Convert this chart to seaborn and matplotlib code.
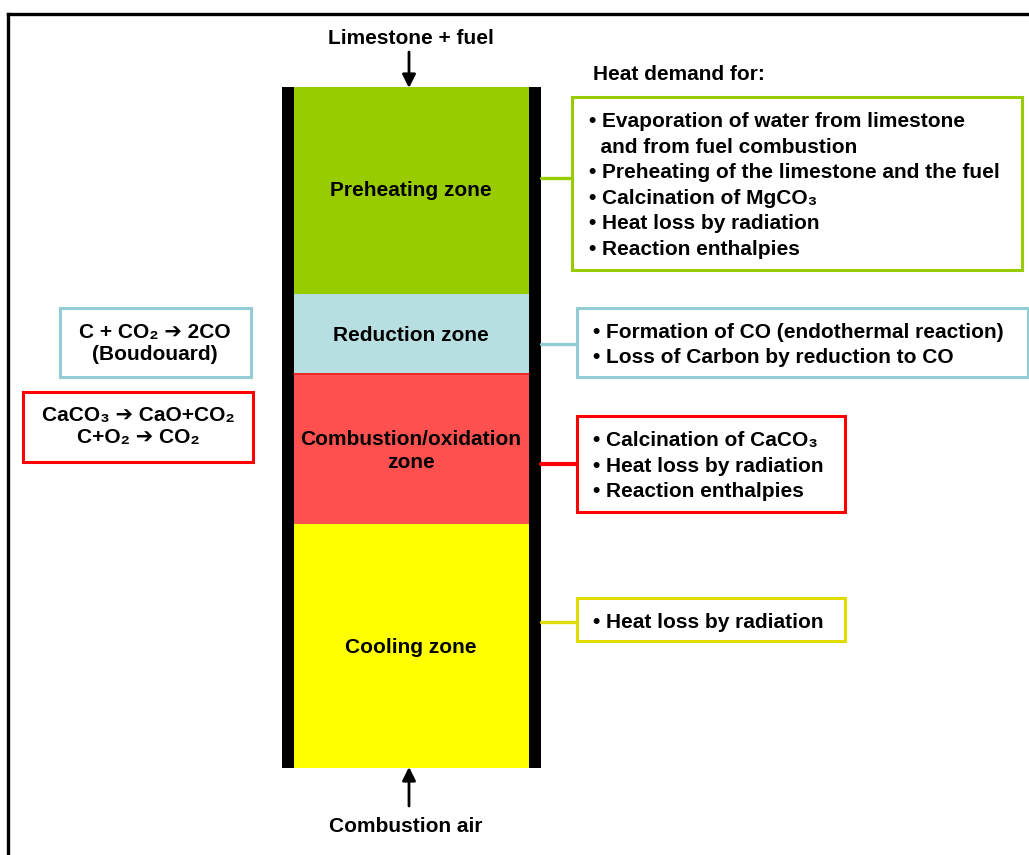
import matplotlib
matplotlib.use("Agg")
import matplotlib.pyplot as plt
from matplotlib.patches import Rectangle
import seaborn as sns

# zones of the kiln shaft, top to bottom (pixel-like units, y grows downward)
zone_names = ["Preheating zone", "Reduction zone", "Combustion/oxidation\nzone", "Cooling zone"]
zone_top = [87, 294, 375, 524]
zone_bottom = [294, 373, 524, 768]
zone_colors = ["#99CC00", "#B7DFE2", "#FF5050", "#FFFF00"]
zone_label_y = [191, 335, 451, 647]

# heat demand boxes (right side)
green_items = ["• Evaporation of water from limestone", "  and from fuel combustion",
               "• Preheating of the limestone and the fuel", "• Calcination of MgCO₃",
               "• Heat loss by radiation", "• Reaction enthalpies"]
blue_items = ["• Formation of CO (endothermal reaction)", "• Loss of Carbon by reduction to CO"]
red_items = ["• Calcination of CaCO₃", "• Heat loss by radiation", "• Reaction enthalpies"]
yellow_items = ["• Heat loss by radiation"]

# reaction boxes (left side)
boudouard_lines = ["C + CO₂ ➔ 2CO", "(Boudouard)"]
combustion_lines = ["CaCO₃ ➔ CaO+CO₂", "C+O₂ ➔ CO₂"]

sns.set_theme(style="white")
plt.rcParams["font.family"] = ["Liberation Sans", "DejaVu Sans"]
plt.rcParams["font.weight"] = "bold"
plt.rcParams["text.color"] = "black"

fig = plt.figure(figsize=(10.29, 8.55), dpi=100)
ax = fig.add_axes([0, 0, 1, 1])
ax.set_xlim(0, 1029)
ax.set_ylim(855, 0)
ax.axis("off")

FS = 15

# page frame
ax.plot([8, 1029], [14, 14], color="black", lw=2.4, solid_capstyle="projecting")
ax.plot([8, 8], [14, 855], color="black", lw=2.4, solid_capstyle="projecting")

# shaft zones
heights = [b - t for t, b in zip(zone_top, zone_bottom)]
ax.bar([411.5] * 4, heights, bottom=zone_top, width=236, color=zone_colors, linewidth=0)
ax.plot([294, 529], [374.5, 374.5], color="#E00000", lw=1.2)
# walls
ax.bar([288, 535], [681, 681], bottom=[87, 87], width=12, color="black", linewidth=0)

for name, y in zip(zone_names, zone_label_y):
    ax.text(411, y, name, ha="center", va="center", fontsize=FS, fontweight="bold",
            linespacing=1.25, color="black")

# feed / air arrows
ax.text(411, 38, "Limestone + fuel", ha="center", va="center", fontsize=FS,
        fontweight="bold", color="black")
ax.annotate("", xy=(409, 88), xytext=(409, 52),
            arrowprops=dict(arrowstyle="-|>", color="black", lw=2, mutation_scale=20,
                            shrinkA=0, shrinkB=0))
ax.annotate("", xy=(409, 767), xytext=(409, 806),
            arrowprops=dict(arrowstyle="-|>", color="black", lw=2, mutation_scale=20,
                            shrinkA=0, shrinkB=0))
ax.text(406, 826, "Combustion air", ha="center", va="center", fontsize=FS,
        fontweight="bold", color="black")

ax.text(593, 74, "Heat demand for:", ha="left", va="center", fontsize=FS,
        fontweight="bold", color="black")


def box(x0, y0, x1, y1, color, lw=2.2):
    ax.add_patch(Rectangle((x0, y0), x1 - x0, y1 - y0, facecolor="white",
                           edgecolor=color, lw=lw, zorder=3))


def lines_left(x, y0, step, items):
    for i, s in enumerate(items):
        ax.text(x, y0 + i * step, s, ha="left", va="baseline", fontsize=FS,
                fontweight="bold", color="black", zorder=4)


def lines_center(x, y0, step, items):
    for i, s in enumerate(items):
        ax.text(x, y0 + i * step, s, ha="center", va="baseline", fontsize=FS,
                fontweight="bold", color="black", zorder=4)


# right boxes with connectors
ax.plot([541, 572], [178, 178], color="#99CC00", lw=2.4)
box(572, 97, 1022, 270, "#99CC00")
lines_left(589, 127, 25.6, green_items)

ax.plot([541, 577], [344, 344], color="#92CDD3", lw=2.4)
box(577, 308, 1028, 377, "#92CDD3")
lines_left(593, 338, 24.5, blue_items)

ax.plot([541, 577], [464, 464], color="#FF0000", lw=3)
box(577, 416, 845, 512, "#FF0000")
lines_left(593, 446, 25.5, red_items)

ax.plot([541, 577], [622, 622], color="#E0DC00", lw=2.4)
box(577, 598, 845, 641, "#E0DC00")
lines_left(593, 628, 25, yellow_items)

# left reaction boxes
box(60, 308, 251, 377, "#92CDD3")
lines_center(155, 338, 22, boudouard_lines)

box(23, 392, 253, 462, "#FF0000")
lines_center(138, 421, 22, combustion_lines)

fig.savefig("out.png", dpi=100)
